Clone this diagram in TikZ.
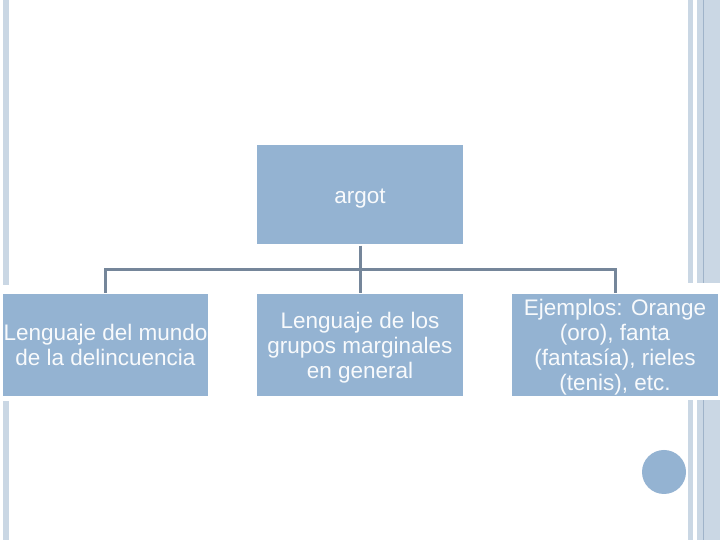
\documentclass[tikz,border=0pt]{standalone}
\usepackage{fontspec}
\setmainfont{Liberation Sans}
\definecolor{boxfill}{HTML}{94B3D2}
\definecolor{barlight}{HTML}{CAD7E4}
\definecolor{barline}{HTML}{9FB3C9}
\definecolor{conn}{HTML}{75869A}
\definecolor{txt}{HTML}{F8FAFC}
\tikzset{
  topic/.style={rectangle, fill=boxfill, draw=white, line width=1.5pt, text=txt,
    minimum width=208pt, minimum height=103pt, inner sep=0pt, align=center,
    font=\fontsize{22.5}{25}\selectfont},
  link/.style={draw=conn, line width=3pt}
}
\begin{document}
\begin{tikzpicture}[x=1pt,y=1pt]
\fill[white] (0,0) rectangle (720,540);
\useasboundingbox (0,0) rectangle (720,540);
% left bar
\fill[barlight] (3,0) rectangle (9,139);
\fill[barlight] (3,255) rectangle (9,540);
% right bars
\fill[barlight] (688,0) rectangle (693,140);
\fill[barlight] (697,0) rectangle (720,140);
\fill[barlight] (688,257) rectangle (693,540);
\fill[barlight] (697,257) rectangle (720,540);
\draw[barline, line width=1pt] (703,0) -- (703,140);
\draw[barline, line width=1pt] (703,257) -- (703,540);
% nodes
\node[topic, minimum height=101pt] (argot) at (360,345.5) {\rule{0pt}{22pt}argot};
\node[topic, minimum width=207pt] (left) at (105.5,195) {Lenguaje del mundo\\de la delincuencia};
\node[topic] (mid) at (360,195) {\rule{0pt}{21pt}Lenguaje de los\\grupos marginales\\en general};
\node[topic] (right) at (615,195) {\rule{0pt}{21pt}Ejemplos: Orange\\(oro), fanta\\(fantasía), rieles\\(tenis), etc.};
% connectors
\coordinate (j) at (360,270);
\draw[link] (argot.south) -- (j);
\draw[link] (j) -| (left.north);
\draw[link] (j) -- (mid.north);
\draw[link] (j) -| (right.north);
% circle
\node[circle, fill=boxfill, minimum size=44pt, inner sep=0pt] (dot) at (664,68) {};
\end{tikzpicture}
\end{document}
